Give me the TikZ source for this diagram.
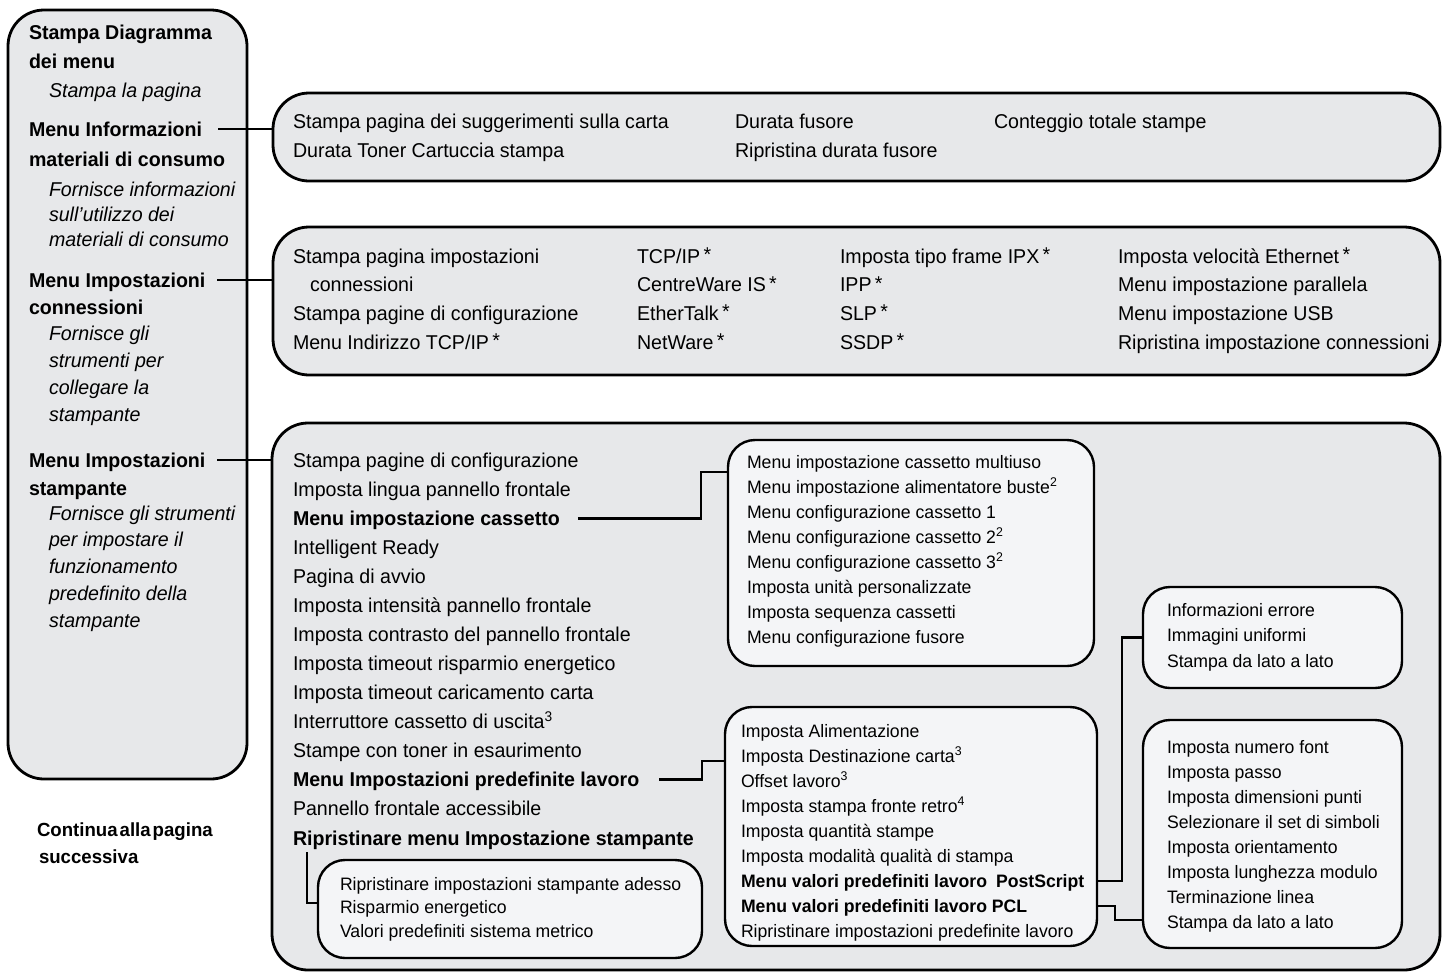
\documentclass[tikz,border=0pt]{standalone}
\usepackage{fontspec}
\setmainfont{Liberation Sans}[FakeStretch=0.98]
\usetikzlibrary{calc}
\pgfdeclarelayer{bg}
\pgfdeclarelayer{mid}
\pgfsetlayers{bg,mid,main}
\definecolor{boxgray}{HTML}{E7E8EA}
\definecolor{subgray}{HTML}{F4F5F7}
\newcommand\fmain{\fontsize{20}{24}\selectfont}
\newcommand\fsub{\fontsize{18}{22}\selectfont}
\tikzset{
  bigbox/.style={draw=black, line width=2.8pt, fill=boxgray, rounded corners=36pt, inner sep=0pt, outer sep=0pt},
  subbox/.style={draw=black, line width=2.4pt, fill=subgray, rounded corners=27pt, inner sep=0pt, outer sep=0pt},
  conn/.style={draw=black, line width=2.8pt},
  mt/.style={anchor=west, inner sep=0pt, outer sep=0pt, font=\fmain, text height=14pt, text depth=0pt},
  st/.style={mt, font=\fsub, text height=12.5pt},
  lb/.style={mt, font=\fmain\bfseries},
  li/.style={mt, font=\fmain\itshape},
}
\begin{document}
\begin{tikzpicture}[x=1pt, y=-1pt]
\useasboundingbox (0,0) rectangle (1442,975);
% big boxes
\begin{pgfonlayer}{bg}
\node[bigbox, minimum width=239pt, minimum height=769pt] (left) at (127.5,394.5) {};
\node[bigbox, minimum width=1167pt, minimum height=88pt] (info) at (856.5,137) {};
\node[bigbox, minimum width=1167pt, minimum height=148pt] (conn) at (856.5,301) {};
\node[bigbox, minimum width=1168pt, minimum height=547pt] (prt) at (856,696.5) {};
\end{pgfonlayer}
% sub boxes
\node[subbox, minimum width=366pt, minimum height=226pt] (tray) at (911,553) {};
\node[subbox, minimum width=372pt, minimum height=239pt] (job) at (911,826.5) {};
\node[subbox, minimum width=259pt, minimum height=101pt] (ps) at (1272.5,637.5) {};
\node[subbox, minimum width=259pt, minimum height=228pt] (pcl) at (1272.5,834) {};
\node[subbox, minimum width=384pt, minimum height=98pt] (reset) at (510,909) {};
% left panel text
\node[lb] (L1) at (29,32) {Stampa Diagramma};
\node[lb] (L2) at (29,61) {dei menu};
\node[li] (L3) at (49,90) {Stampa la pagina};
\node[lb] (L4) at (29,129) {Menu Informazioni};
\node[lb] (L5) at (29,159) {materiali di consumo};
\node[li] (L6) at (49,189) {Fornisce informazioni};
\node[li] (L7) at (49,214) {sull’utilizzo dei};
\node[li] (L8) at (49,239) {materiali di consumo};
\node[lb] (L9) at (29,280) {Menu Impostazioni};
\node[lb] (L10) at (29,307) {connessioni};
\node[li] (L11) at (49,333) {Fornisce gli};
\node[li] (L12) at (49,360) {strumenti per};
\node[li] (L13) at (49,387) {collegare la};
\node[li] (L14) at (49,414) {stampante};
\node[lb] (L15) at (29,460) {Menu Impostazioni};
\node[lb] (L16) at (29,488) {stampante};
\node[li] (L17) at (49,513) {Fornisce gli strumenti};
\node[li] (L18) at (49,539) {per impostare il};
\node[li] (L19) at (49,566) {funzionamento};
\node[li] (L20) at (49,593) {predefinito della};
\node[li] (L21) at (49,620) {stampante};
\node[mt, font=\fontsize{19}{23}\selectfont\bfseries] (C1) at (37,829) {Continua\hspace{2pt}alla\hspace{2pt}pagina};
\node[mt, font=\fontsize{19}{23}\selectfont\bfseries] (C2) at (39,856) {successiva};
% supplies box text
\node[mt] (I1) at (293,121) {Stampa pagina dei suggerimenti sulla carta};
\node[mt] (I2) at (293,150) {Durata Toner Cartuccia stampa};
\node[mt] (I3) at (735,121) {Durata fusore};
\node[mt] (I4) at (735,150) {Ripristina durata fusore};
\node[mt] (I5) at (994,121) {Conteggio totale stampe};
% connections box text
\node[mt] (K1) at (293,256) {Stampa pagina impostazioni};
\node[mt] (K2) at (310,284.7) {connessioni};
\node[mt] (K3) at (293,313.4) {Stampa pagine di configurazione};
\node[mt] (K4) at (293,342) {Menu Indirizzo TCP/IP\,\raisebox{1.5pt}{*}};
\foreach \t [count=\i] in {TCP/IP\,\raisebox{1.5pt}{*}, CentreWare IS\,\raisebox{1.5pt}{*}, EtherTalk\,\raisebox{1.5pt}{*}, NetWare\,\raisebox{1.5pt}{*}}
  \node[mt] (KA\i) at (637,{256+28.7*(\i-1)}) {\t};
\foreach \t [count=\i] in {Imposta tipo frame IPX\,\raisebox{1.5pt}{*}, IPP\,\raisebox{1.5pt}{*}, SLP\,\raisebox{1.5pt}{*}, SSDP\,\raisebox{1.5pt}{*}}
  \node[mt] (KB\i) at (840,{256+28.7*(\i-1)}) {\t};
\foreach \t [count=\i] in {Imposta velocità Ethernet\,\raisebox{1.5pt}{*}, Menu impostazione parallela, Menu impostazione USB, Ripristina impostazione connessioni}
  \node[mt] (KC\i) at (1118,{256+28.7*(\i-1)}) {\t};
% printer box text
\foreach \t [count=\i] in {Stampa pagine di configurazione, Imposta lingua pannello frontale, \textbf{Menu impostazione cassetto}, Intelligent Ready, Pagina di avvio, Imposta intensità pannello frontale, Imposta contrasto del pannello frontale, Imposta timeout risparmio energetico, Imposta timeout caricamento carta, Interruttore cassetto di uscita\textsuperscript{3}, Stampe con toner in esaurimento, \textbf{Menu Impostazioni predefinite lavoro}, Pannello frontale accessibile, \textbf{Ripristinare menu Impostazione stampante}}
  \node[mt] (P\i) at (293,{460+29.08*(\i-1)}) {\t};
% tray box text
\foreach \t [count=\i] in {Menu impostazione cassetto multiuso, Menu impostazione alimentatore buste\textsuperscript{2}, Menu configurazione cassetto 1, Menu configurazione cassetto 2\textsuperscript{2}, Menu configurazione cassetto 3\textsuperscript{2}, Imposta unità personalizzate, Imposta sequenza cassetti, Menu configurazione fusore}
  \node[st] (T\i) at (747,{462+25*(\i-1)}) {\t};
% job box text
\foreach \t [count=\i] in {Imposta Alimentazione, Imposta Destinazione carta\textsuperscript{3}, Offset lavoro\textsuperscript{3}, Imposta stampa fronte retro\textsuperscript{4}, Imposta quantità stampe, Imposta modalità qualità di stampa, \textbf{Menu valori predefiniti lavoro\enspace PostScript}, \textbf{Menu valori predefiniti lavoro PCL}, Ripristinare impostazioni predefinite lavoro}
  \node[st] (J\i) at (741,{731+25*(\i-1)}) {\t};
% PS box text
\foreach \t [count=\i] in {Informazioni errore, Immagini uniformi, Stampa da lato a lato}
  \node[st] (S\i) at (1167,{610+25.5*(\i-1)}) {\t};
% PCL box text
\foreach \t [count=\i] in {Imposta numero font, Imposta passo, Imposta dimensioni punti, Selezionare il set di simboli, Imposta orientamento, Imposta lunghezza modulo, Terminazione linea, Stampa da lato a lato}
  \node[st] (Q\i) at (1167,{747+25.1*(\i-1)}) {\t};
% reset box text
\foreach \t [count=\i] in {Ripristinare impostazioni stampante adesso, Risparmio energetico, Valori predefiniti sistema metrico}
  \node[st] (R\i) at (340,{884+23.5*(\i-1)}) {\t};
% connectors
\coordinate (trayj) at ($(tray.north west)+(0,32)$);
\coordinate (jobj) at ($(job.north west)+(0,54)$);
\coordinate (pclj) at ($(pcl.south west)+(0,-28)$);
\coordinate (resetj) at ($(reset.north west)+(0,43)$);
\begin{pgfonlayer}{mid}
\draw[conn] ([xshift=16pt]L4.east) -- (L4.east -| info.west);
\draw[conn] ([xshift=12pt]L9.east) -- (L9.east -| conn.west);
\draw[conn] ([xshift=12pt]L15.east) -- (L15.east -| prt.west);
\draw[conn] ([xshift=18pt]P3.east) -| ($(trayj)+(-27,0)$) -- (trayj);
\draw[conn] ([xshift=20pt]P12.east) -| ($(jobj)+(-23,0)$) -- (jobj);
\draw[conn] ([xshift=6pt]J7.east) -| ($(ps.west)+(-21,0)$) -- (ps.west);
\draw[conn] ([xshift=8pt]J8.east) -| ($(pclj)+(-28,0)$) -- (pclj);
\draw[conn] ($(P14.west)+(14,14)$) |- (resetj);
\end{pgfonlayer}
\end{tikzpicture}
\end{document}
